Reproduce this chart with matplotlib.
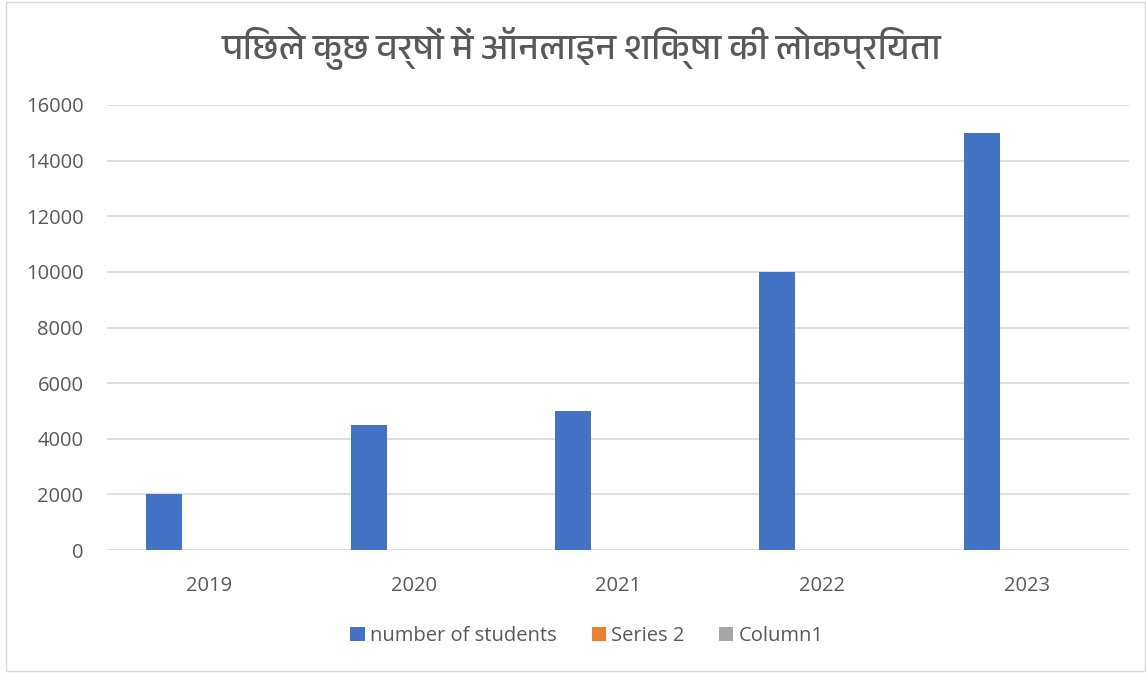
import matplotlib
matplotlib.use("Agg")
import matplotlib.pyplot as plt
from matplotlib import font_manager
from matplotlib.patches import Rectangle
import numpy as np

years = ["2019", "2020", "2021", "2022", "2023"]
students = [2000, 4500, 5000, 10000, 15000]
series2 = [0, 0, 0, 0, 0]
column1 = [0, 0, 0, 0, 0]
series_names = ["number of students", "Series 2", "Column1"]
series_colors = ["#4472C4", "#ED7D31", "#A5A5A5"]
title = "पिछले कुछ वर्षों में ऑनलाइन शिक्षा की लोकप्रियता"

# look for any installed font that can draw Devanagari
deva = [f.name for f in font_manager.fontManager.ttflist
        if any(k in f.name for k in ("Devanagari", "Lohit", "Mangal", "Nirmala", "Gargi", "Kalimati"))]
title_family = list(dict.fromkeys(deva)) + ["DejaVu Sans"]

plt.rcParams["font.family"] = ["Open Sans", "DejaVu Sans"]
grey = "#595959"

fig = plt.figure(figsize=(11.46, 6.73), dpi=100)
ax = fig.add_axes([107 / 1146, 1 - 550 / 673, (1129 - 107) / 1146, (550 - 105) / 673])

x = np.arange(len(years))
w = 0.176
ax.bar(x - 0.22, students, w, color=series_colors[0], linewidth=0, zorder=3, label=series_names[0])
ax.bar(x, series2, w, color=series_colors[1], linewidth=0, zorder=3, label=series_names[1])
ax.bar(x + 0.22, column1, w, color=series_colors[2], linewidth=0, zorder=3, label=series_names[2])

ax.set_xlim(-0.5, len(years) - 0.5)
ax.set_ylim(0, 16000)
ax.set_yticks(range(0, 16001, 2000))
ax.set_xticks(x)
ax.set_xticklabels(years)
ax.grid(axis="y", color="#d9d9d9", linewidth=1.2, zorder=0)
for s in ax.spines.values():
    s.set_visible(False)
ax.tick_params(length=0, labelsize=14.5, labelcolor=grey)
ax.tick_params(axis="y", pad=17)
ax.tick_params(axis="x", pad=19)

fig.text(582 / 1146, 1 - 48 / 673, title, ha="center", va="center", fontsize=26,
         color=grey, family=title_family, fontweight="light")

leg = fig.legend(loc="center", bbox_to_anchor=(587 / 1146, 1 - 636 / 673), ncol=3,
                 frameon=False, fontsize=14.5, handlelength=0.7, handleheight=0.7,
                 handletextpad=0.25, columnspacing=1.75)
for t in leg.get_texts():
    t.set_color(grey)

# thin outer chart border
fig.patches.append(Rectangle((6 / 1146, 2 / 673), 1 - 7 / 1146, 1 - 4 / 673, transform=fig.transFigure,
                             fill=False, edgecolor="#d9d9d9", linewidth=1))

fig.savefig("out.png", dpi=100)
